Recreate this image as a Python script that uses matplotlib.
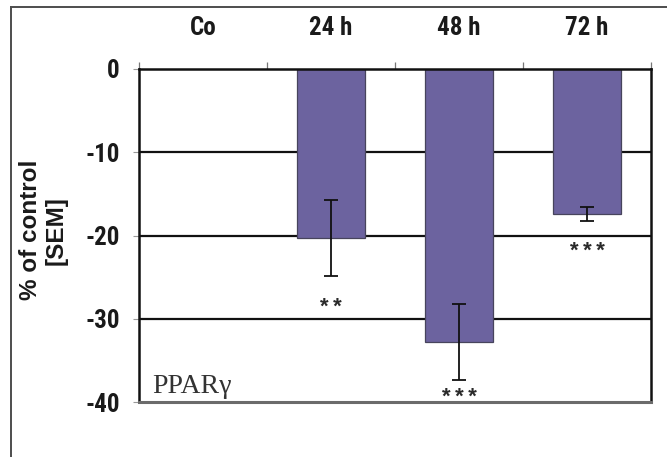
import numpy as np
import matplotlib
matplotlib.use('Agg')
import matplotlib.pyplot as plt
from matplotlib.lines import Line2D
from matplotlib import font_manager

# PPARgamma change vs. control, mean and SEM per time point
groups = ["Co", "24 h", "48 h", "72 h"]
change = [0.0, -20.3, -32.8, -17.4]
sem = [0.0, 4.6, 4.6, 0.85]
stars = ["", "**", "***", "***"]

# pick a condensed bold face for the numbers if one is around
names = {f.name for f in font_manager.fontManager.ttflist}
cond = {(f.name, f.stretch) for f in font_manager.fontManager.ttflist}
lab_font = dict(family=['Liberation Sans', 'DejaVu Sans'], fontsize=16)
for nm in ['Liberation Sans Narrow', 'Roboto Condensed', 'Open Sans Condensed',
           'DejaVu Sans Condensed', 'Arial Narrow']:
    if nm in names:
        lab_font = dict(family=[nm, 'DejaVu Sans'], fontsize=18)
        break
else:
    for nm, st in cond:
        if st in ('condensed', 'semi-condensed', 75, 87) and nm in (
                'DejaVu Sans', 'Roboto', 'Open Sans', 'Noto Sans'):
            lab_font = dict(family=[nm], fontsize=18, fontstretch='condensed')
            break

W, H = 667, 457
fig = plt.figure(figsize=(W / 100, H / 100), dpi=100)

# frame round the whole figure (right/bottom run off the edge)
x0, y0 = 11 / W, 1 - 7 / H
fig.lines.append(Line2D([x0, x0], [0, y0], transform=fig.transFigure,
                        color='#4d4d4d', lw=1.4))
fig.lines.append(Line2D([x0, 1], [y0, y0], transform=fig.transFigure,
                        color='#4d4d4d', lw=1.4))

ax = fig.add_axes([139 / W, 1 - 402 / H, 512 / W, 333 / H])

txtc = '#1a1a1a'
barc = '#6c639f'

x = np.arange(len(groups))
vals = np.array(change)
errs = np.array(sem)
show = vals != 0

ax.bar(x[show], vals[show], width=0.53, color=barc, edgecolor='#47445c',
       linewidth=0.9, zorder=3)
ax.errorbar(x[show], vals[show], yerr=errs[show], fmt='none', ecolor='#111111',
            elinewidth=1.3, capsize=5, capthick=1.3, zorder=4)

# significance marks under the error bars
for xi, v, e, s in zip(x, vals, errs, stars):
    if not s:
        continue
    ys = max(v - e - 3.7, -39.4)
    ax.text(xi, ys, "\u2009".join(s), ha='center', va='center', fontsize=16,
            fontweight='bold', color='#2a2a2a',
            family=['Liberation Sans', 'DejaVu Sans'], zorder=5)

ax.set_xlim(-0.5, len(groups) - 0.5)
ax.set_ylim(-40, 0)

# horizontal grid lines behind the bars
for g in (-10, -20, -30):
    ax.axhline(g, color='#111111', lw=1.6, zorder=1)

for side in ('top', 'left', 'right'):
    ax.spines[side].set_color('#111111')
    ax.spines[side].set_linewidth(1.8)
ax.spines['top'].set_zorder(5)
ax.spines['bottom'].set_color('#6b6b6b')
ax.spines['bottom'].set_linewidth(2.2)

# category names along the top, tick marks on the boundaries
ax.xaxis.tick_top()
ax.set_xticks(np.arange(len(groups) + 1) - 0.5)
ax.set_xticklabels([])
ax.tick_params(axis='x', which='major', direction='out', length=5,
               width=0.9, color='#777777')
ax.set_xticks(x, minor=True)
ax.set_xticklabels(groups, minor=True, fontweight='bold', color=txtc,
                   **lab_font)
ax.tick_params(axis='x', which='minor', length=0, pad=21, top=True,
               bottom=False)

ax.set_yticks([0, -10, -20, -30, -40])
ax.set_yticklabels(['0', '-10', '-20', '-30', '-40'], fontweight='bold',
                   color=txtc, **lab_font)
ax.tick_params(axis='y', direction='out', length=4, width=0.8,
               color='#999999', pad=10)

ax.set_ylabel("% of control\n[SEM]", fontsize=17.5, fontweight='bold',
              family=['Liberation Sans', 'DejaVu Sans'], color=txtc,
              linespacing=1.12, va='center', ha='center')
ax.yaxis.set_label_coords(-0.1865, 0.516)

ax.text(0.025, 0.027, "PPARγ", transform=ax.transAxes, ha='left',
        va='baseline', fontsize=20, family=['Liberation Serif', 'DejaVu Serif'],
        color='#333333', zorder=5)

fig.savefig("out.png", dpi=100)
